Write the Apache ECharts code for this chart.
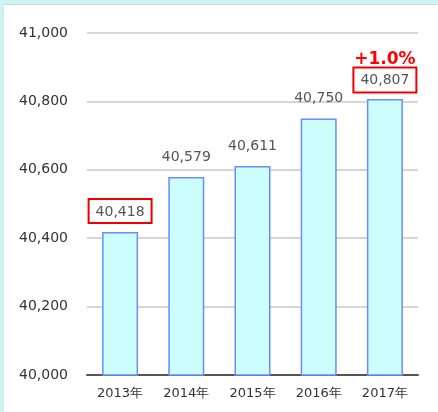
<!DOCTYPE html>
<html>
<head>
<meta charset="UTF-8">
<script src="https://cdn.jsdelivr.net/npm/echarts@6/dist/echarts.min.js"></script>
<style>
	html, body { margin: 0; padding: 0; background: #c9f5f5; }
	#wrap { position: absolute; left: 3px; top: 4px; width: 435px; height: 408px; background: #fff; border-top: 1px solid #d4d4d4; border-left: 1px solid #e4e4e4; box-sizing: border-box; }
	#main { position: absolute; left: -4px; top: -5px; width: 438px; height: 412px; }
</style>
</head>
<body>
<div id="wrap"><div id="main"></div></div>
<script>
	var years = ['2013年', '2014年', '2015年', '2016年', '2017年'];
	var values = [40418, 40579, 40611, 40750, 40807];
	var boxed = [0, 4]; // 赤枠の付く年
	var growth = '+1.0%';

	function fmt(v) {
		return String(v).replace(/\B(?=(\d{3})+(?!\d))/g, ',');
	}

	var data = [];
	for (var i = 0; i < values.length; i++) {
		var item = { value: values[i] };
		if (boxed.indexOf(i) >= 0) {
			if (i == values.length - 1) {
				item.label = {
					padding: 0,
					distance: 11,
					formatter: '{p|' + growth + '}\n{b|' + fmt(values[i]) + '}',
					rich: {
						p: { color: '#ff0000', fontSize: 17, fontWeight: 'bold', fontFamily: 'DejaVu Sans', lineHeight: 24 },
						b: { color: '#555', fontSize: 14, fontFamily: 'DejaVu Sans', borderColor: '#ee0000', borderWidth: 2, padding: [6, 7, 5, 7], lineHeight: 16 }
					}
				};
			} else {
				item.label = { borderColor: '#ee0000', borderWidth: 2 };
			}
		}
		data.push(item);
	}

	var myChart = echarts.init(document.getElementById('main'));
	var option = {
		animation: false,
		grid: { left: 87, right: 20, top: 33, bottom: 37 },
		xAxis: {
			type: 'category',
			data: years,
			axisLine: { lineStyle: { color: '#555', width: 2 } },
			axisTick: { show: false },
			axisLabel: { color: '#333', fontSize: 13, fontFamily: 'DejaVu Sans', margin: 12 }
		},
		yAxis: {
			type: 'value',
			min: 40000,
			max: 41000,
			interval: 200,
			axisLine: { show: false },
			axisTick: { show: false },
			axisLabel: { color: '#333', fontSize: 14, fontFamily: 'DejaVu Sans', margin: 19, formatter: function (v) { return fmt(v); } },
			splitLine: { lineStyle: { color: '#d6d6d6', width: 2 } }
		},
		series: [{
			type: 'bar',
			data: data,
			barWidth: 36,
			itemStyle: { color: '#ccfefe', borderColor: '#6a8cff', borderWidth: 1.5 },
			label: {
				show: true,
				position: 'top',
				distance: 9,
				color: '#555',
				fontSize: 14,
				fontFamily: 'DejaVu Sans',
				padding: [6, 7, 4, 7],
				formatter: function (p) { return fmt(p.value); }
			}
		}]
	};
	myChart.setOption(option);
</script>
</body>
</html>
